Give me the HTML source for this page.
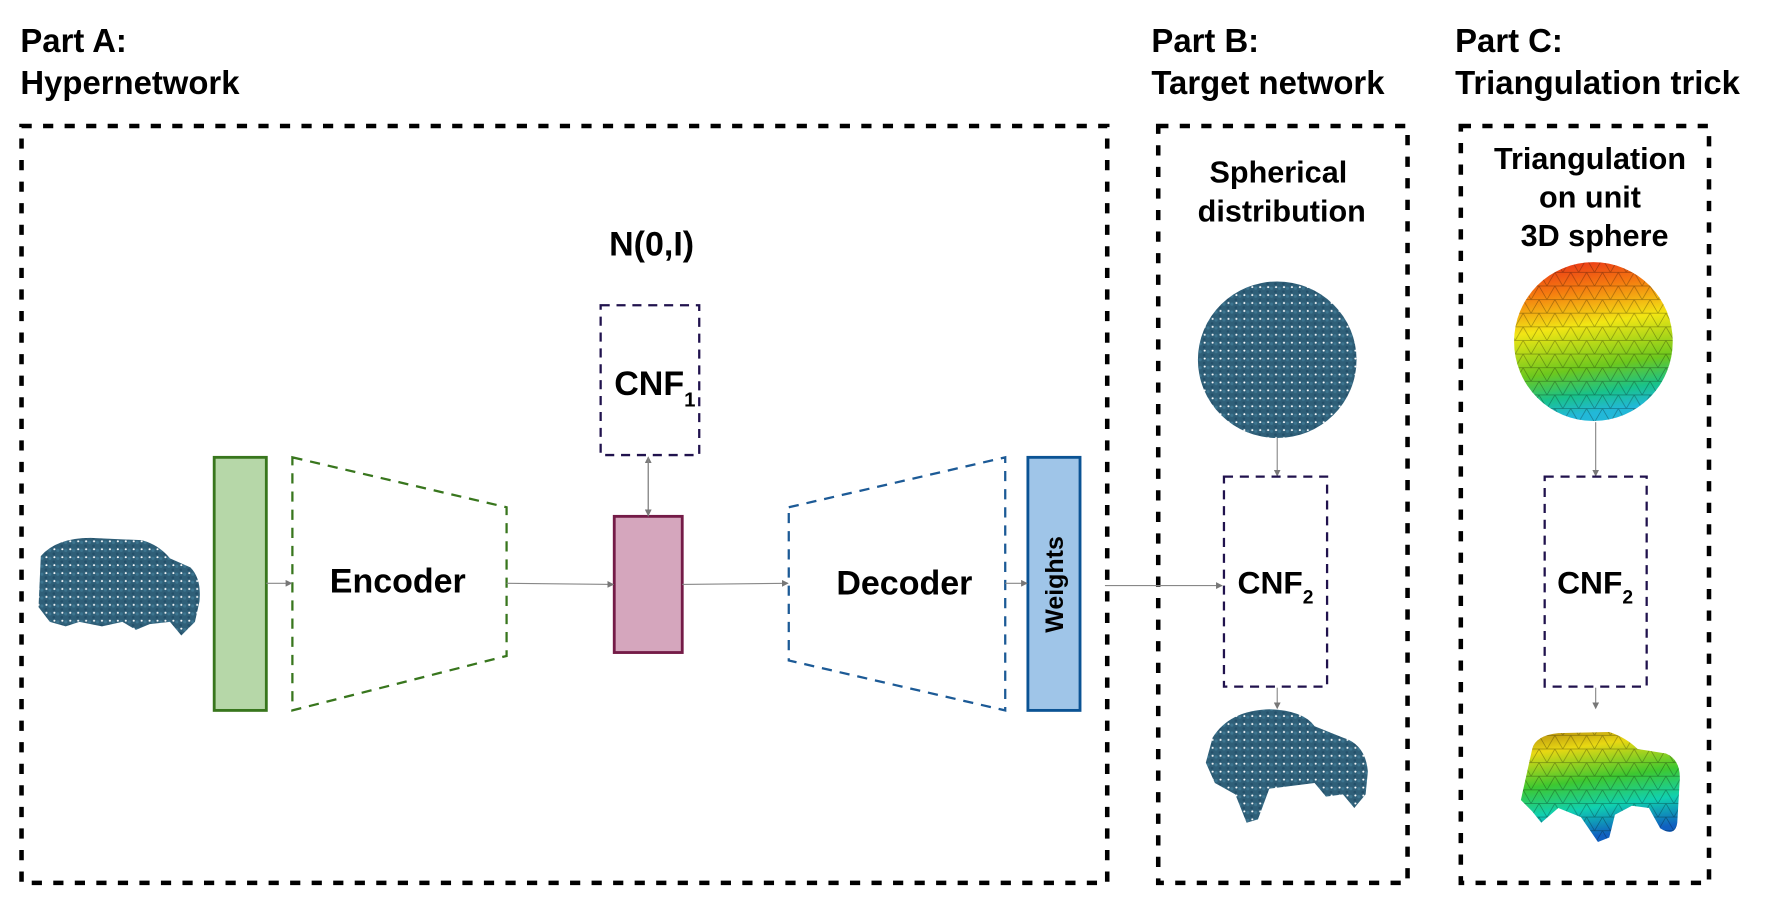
<!DOCTYPE html>
<html><head><meta charset="utf-8"><style>
html,body{margin:0;padding:0;background:#fff;}
svg{display:block;}
text{font-family:"Liberation Sans",Arial,sans-serif;font-weight:bold;fill:#000;}
</style></head><body>
<svg width="1777" height="909" viewBox="0 0 1568 801" preserveAspectRatio="none" xmlns="http://www.w3.org/2000/svg">
<defs>
<pattern id="dots" width="7" height="7" patternUnits="userSpaceOnUse">
<rect width="7" height="7" fill="#2f5f78"/>
<circle cx="2" cy="2" r="1.4" fill="#3d7590"/>
<circle cx="5.5" cy="5" r="1.2" fill="#24506a"/>
<circle cx="6" cy="1" r="0.9" fill="#fff"/>
</pattern>
<linearGradient id="sph" x1="0" y1="0" x2="0.15" y2="1">
<stop offset="0" stop-color="#e8261a"/>
<stop offset="0.22" stop-color="#f57a10"/>
<stop offset="0.45" stop-color="#f2e614"/>
<stop offset="0.72" stop-color="#6cc81e"/>
<stop offset="0.88" stop-color="#19c28a"/>
<stop offset="1" stop-color="#22b8d8"/>
</linearGradient>
<linearGradient id="car" x1="0" y1="0" x2="0.2" y2="1">
<stop offset="0" stop-color="#b58a10"/>
<stop offset="0.2" stop-color="#e8d812"/>
<stop offset="0.5" stop-color="#3ec830"/>
<stop offset="0.75" stop-color="#10d0b0"/>
<stop offset="1" stop-color="#1060c0"/>
</linearGradient>
<pattern id="mesh" width="14" height="12" patternUnits="userSpaceOnUse">
<path d="M0 0L14 0M0 12L14 12M0 0L7 12L14 0" stroke="#000" stroke-opacity="0.35" stroke-width="0.6" fill="none"/>
</pattern>
<marker id="ar" markerWidth="6" markerHeight="6" refX="5" refY="3" orient="auto"><path d="M0 0L6 3L0 6z" fill="#777"/></marker>
</defs>

<text x="18" y="46" font-size="29">Part A:</text>
<text x="18" y="83" font-size="29">Hypernetwork</text>
<text x="1016" y="46" font-size="29">Part B:</text>
<text x="1016" y="83" font-size="29">Target network</text>
<text x="1284" y="46" font-size="29">Part C:</text>
<text x="1284" y="83" font-size="29">Triangulation trick</text>

<g fill="none" stroke="#000" stroke-width="4" stroke-dasharray="9 10">
<rect x="19" y="111" width="958" height="667"/>
<rect x="1022" y="111" width="220" height="667"/>
<rect x="1289" y="111" width="219" height="667"/>
</g>

<path d="M36 490 Q50 474 80 474 L125 476 Q140 480 150 492 L168 500 Q178 510 176 530 L172 548 L160 560 L150 548 L132 550 L120 555 L108 548 L90 552 L70 548 L58 552 L44 548 L34 535 Z" fill="url(#dots)"/>

<rect x="189" y="403" width="46" height="223" fill="#b6d7a8" stroke="#38761d" stroke-width="2.5"/>
<polygon points="258,403 447,447 447,578 258,626" fill="none" stroke="#38761d" stroke-width="2" stroke-dasharray="9 7"/>
<text x="351" y="522" font-size="30" text-anchor="middle">Encoder</text>

<rect x="542" y="455" width="60" height="120" fill="#d5a6bd" stroke="#741b47" stroke-width="2.5"/>
<rect x="530" y="269" width="87" height="132" fill="none" stroke="#20124d" stroke-width="2" stroke-dasharray="8 6"/>
<text x="542" y="348" font-size="30">CNF<tspan font-size="18" dy="10">1</tspan></text>
<text x="575" y="225" font-size="30" text-anchor="middle">N(0,I)</text>

<polygon points="696,447 887,403 887,626 696,582" fill="none" stroke="#1c5a96" stroke-width="2" stroke-dasharray="9 7"/>
<text x="798" y="524" font-size="30" text-anchor="middle">Decoder</text>
<rect x="907" y="403" width="46" height="223" fill="#9fc5e8" stroke="#0b5394" stroke-width="2.5"/>
<text transform="translate(938,515) rotate(-90)" font-size="22" text-anchor="middle">Weights</text>

<g stroke="#888" stroke-width="1" fill="none" marker-end="url(#ar)">
<line x1="235" y1="514" x2="257" y2="514"/>
<line x1="447" y1="514" x2="541" y2="515"/>
<line x1="602" y1="515" x2="695" y2="514"/>
<line x1="887" y1="514" x2="906" y2="514"/>
<line x1="975" y1="516" x2="1078" y2="516"/>
<line x1="572" y1="455" x2="572" y2="403"/>
<line x1="572" y1="403" x2="572" y2="454"/>
<line x1="1127" y1="385" x2="1127" y2="419"/>
<line x1="1127" y1="606" x2="1127" y2="624"/>
<line x1="1408" y1="372" x2="1408" y2="419"/>
<line x1="1408" y1="606" x2="1408" y2="624"/>
</g>

<text x="1128" y="161" font-size="27" text-anchor="middle">Spherical</text>
<text x="1131" y="195" font-size="27" text-anchor="middle">distribution</text>
<ellipse cx="1127" cy="317" rx="70" ry="69" fill="url(#dots)"/>
<rect x="1080" y="420" width="91" height="185" fill="none" stroke="#20124d" stroke-width="2" stroke-dasharray="8 6"/>
<text x="1092" y="523" font-size="28">CNF<tspan font-size="17" dy="9">2</tspan></text>
<path d="M1070 650 Q1085 626 1120 625 Q1150 626 1160 640 L1185 650 Q1205 656 1207 680 L1205 700 L1195 712 L1185 700 L1170 702 L1160 690 L1120 695 L1110 722 L1100 725 L1090 700 L1072 690 L1064 672 Z" fill="url(#dots)"/>

<text x="1403" y="149" font-size="27" text-anchor="middle">Triangulation</text>
<text x="1403" y="183" font-size="27" text-anchor="middle">on unit</text>
<text x="1407" y="217" font-size="27" text-anchor="middle">3D sphere</text>
<ellipse cx="1406" cy="301" rx="70" ry="70" fill="url(#sph)"/>
<ellipse cx="1406" cy="301" rx="70" ry="70" fill="url(#mesh)"/>
<rect x="1363" y="420" width="90" height="185" fill="none" stroke="#20124d" stroke-width="2" stroke-dasharray="8 6"/>
<text x="1374" y="523" font-size="28">CNF<tspan font-size="17" dy="9">2</tspan></text>
<path d="M1352 660 Q1355 648 1375 646 L1420 645 Q1435 650 1445 660 L1470 664 Q1484 670 1482 690 L1480 725 Q1478 738 1465 730 L1455 712 L1440 710 L1425 718 L1420 738 L1410 742 L1395 720 L1375 712 L1360 725 L1352 715 L1342 705 Z" fill="url(#car)"/>
<path d="M1352 660 Q1355 648 1375 646 L1420 645 Q1435 650 1445 660 L1470 664 Q1484 670 1482 690 L1480 725 Q1478 738 1465 730 L1455 712 L1440 710 L1425 718 L1420 738 L1410 742 L1395 720 L1375 712 L1360 725 L1352 715 L1342 705 Z" fill="url(#mesh)"/>
</svg>
</body></html>
